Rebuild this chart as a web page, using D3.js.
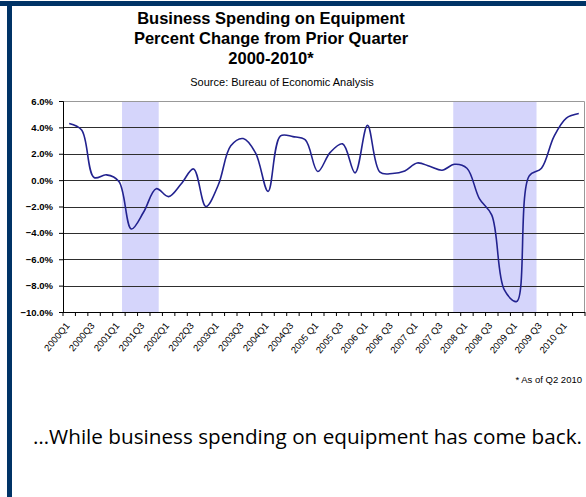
<!DOCTYPE html>
<html>
<head>
<meta charset="utf-8">
<script src="https://d3js.org/d3.v7.min.js"></script>
<style>
  body { margin: 0; background: #fff; }
  svg { display: block; }
  .tick-y { font-family: "Liberation Sans", Arial, sans-serif; font-size: 9.5px; font-weight: bold; }
  .tick-x { font-family: "Liberation Sans", Arial, sans-serif; font-size: 9.5px; }
</style>
</head>
<body>
<div id="chart"></div>
<script>
// Data

var quarters = [
  "2000Q1", "2000Q2", "2000Q3", "2000Q4",
  "2001Q1", "2001Q2", "2001Q3", "2001Q4",
  "2002Q1", "2002Q2", "2002Q3", "2002Q4",
  "2003Q1", "2003Q2", "2003Q3", "2003Q4",
  "2004Q1", "2004Q2", "2004Q3", "2004Q4",
  "2005 Q1", "2005 Q2", "2005 Q3", "2005 Q4",
  "2006 Q1", "2006 Q2", "2006 Q3", "2006 Q4",
  "2007 Q1", "2007 Q2", "2007 Q3", "2007 Q4",
  "2008 Q1", "2008 Q2", "2008 Q3", "2008 Q4",
  "2009 Q1", "2009 Q2", "2009 Q3", "2009 Q4",
  "2010 Q1", "2010 Q2"
];

// percent change from prior quarter
var spending = [
  4.3, 3.8, 0.2, 0.4,
  -0.1, -3.7, -2.4, -0.65,
  -1.25, -0.3, 0.85, -2.0,
  -0.35, 2.6, 3.15, 2.05,
  -0.85, 3.35, 3.3, 3.05,
  0.65, 2.1, 2.75, 0.55,
  4.15, 0.6, 0.5, 0.7,
  1.3, 1.05, 0.75, 1.2,
  0.9, -1.4, -2.65, -8.3,
  -9.2, 0.3, 0.9, 3.3,
  4.7, 5.05
];

// recession shading, in quarter units from 2000Q1
var recessions = [[4.75, 7.7], [31.4, 38.1]];

var yTicks = [6, 4, 2, 0, -2, -4, -6, -8, -10];

var titleLines = [
  "Business Spending on Equipment",
  "Percent Change from Prior Quarter",
  "2000-2010*"
];

// Initialize SVG
var svgWidth = 586;
var svgHeight = 497;

var margin = { top: 101, right: 1, bottom: 185, left: 63 };
var width = svgWidth - margin.left - margin.right;
var height = svgHeight - margin.top - margin.bottom;

var svg = d3.select("#chart")
  .append("svg")
  .attr("width", svgWidth)
  .attr("height", svgHeight);

// slide frame
svg.append("rect")
  .attr("x", 0).attr("y", 1)
  .attr("width", svgWidth).attr("height", 5)
  .attr("fill", "#003366");

svg.append("rect")
  .attr("x", 7).attr("y", 1)
  .attr("width", 5).attr("height", svgHeight)
  .attr("fill", "#003366");

// titles
svg.selectAll(".title")
  .data(titleLines)
  .enter()
  .append("text")
  .attr("class", "title")
  .attr("x", 271)
  .attr("y", (d, i) => 24 + i * 20)
  .attr("text-anchor", "middle")
  .style("font-family", "Liberation Sans, Arial, sans-serif")
  .style("font-weight", "bold")
  .style("font-size", "16.5px")
  .text(d => d);

svg.append("text")
  .attr("x", 282)
  .attr("y", 86)
  .attr("text-anchor", "middle")
  .style("font-family", "Liberation Sans, Arial, sans-serif")
  .style("font-size", "11px")
  .text("Source: Bureau of Economic Analysis");

var chartGroup = svg.append("g")
  .attr("transform", `translate(${margin.left}, ${margin.top})`);

// Create scale functions
var xBand = d3.scaleBand()
  .domain(quarters)
  .range([0, width]);

var xQuarter = d3.scaleLinear()
  .domain([0, quarters.length])
  .range([0, width]);

var yLinearScale = d3.scaleLinear()
  .domain([-10, 6])
  .range([height, 0]);

// recession bands
chartGroup.selectAll(".recession")
  .data(recessions)
  .enter()
  .append("rect")
  .attr("class", "recession")
  .attr("x", d => xQuarter(d[0]))
  .attr("width", d => xQuarter(d[1]) - xQuarter(d[0]))
  .attr("y", 0)
  .attr("height", height)
  .attr("fill", "#d5d5fb");

// gridlines
chartGroup.selectAll(".grid")
  .data(yTicks.filter(d => d !== 6 && d !== -10))
  .enter()
  .append("line")
  .attr("class", "grid")
  .attr("x1", 0)
  .attr("x2", width)
  .attr("y1", d => Math.round(yLinearScale(d)) + 0.5)
  .attr("y2", d => Math.round(yLinearScale(d)) + 0.5)
  .attr("stroke", "#2e2e2e")
  .attr("stroke-width", 1);

// plot border top / right
chartGroup.append("path")
  .attr("d", `M0,0.5H${width - 0.5}V${height}`)
  .attr("fill", "none")
  .attr("stroke", "#999")
  .attr("stroke-width", 1);

// y axis
var leftAxis = d3.axisLeft(yLinearScale)
  .tickValues(yTicks)
  .tickSize(4)
  .tickFormat(d => d3.format(".1f")(d) + "%");

var yAxisG = chartGroup.append("g")
  .attr("class", "tick-y")
  .call(leftAxis);
yAxisG.select(".domain").attr("stroke", "#000");
yAxisG.selectAll(".tick line").attr("stroke", "#000");
yAxisG.selectAll(".tick text")
  .attr("x", -10)
  .attr("fill", "#000");

// x axis with ticks between categories
var xAxisG = chartGroup.append("g")
  .attr("transform", `translate(0, ${height})`);

xAxisG.append("line")
  .attr("x1", 0).attr("x2", width)
  .attr("y1", 0.5).attr("y2", 0.5)
  .attr("stroke", "#000");

xAxisG.selectAll(".xtick")
  .data(d3.range(quarters.length + 1))
  .enter()
  .append("line")
  .attr("class", "xtick")
  .attr("x1", d => xQuarter(d))
  .attr("x2", d => xQuarter(d))
  .attr("y1", 0)
  .attr("y2", 4)
  .attr("stroke", "#000");

xAxisG.selectAll(".xlabel")
  .data(quarters.filter((d, i) => i % 2 === 0))
  .enter()
  .append("text")
  .attr("class", "tick-x")
  .attr("text-anchor", "end")
  .attr("transform", d => `translate(${xBand(d) + xBand.bandwidth() / 2 + 1}, 14) rotate(-50)`)
  .text(d => d);

// Create line
var line = d3.line()
  .x((d, i) => xBand(quarters[i]) + xBand.bandwidth() / 2)
  .y(d => yLinearScale(d))
  .curve(d3.curveCatmullRom.alpha(0.5));

chartGroup.append("path")
  .datum(spending)
  .attr("d", line)
  .attr("fill", "none")
  .attr("stroke", "#22228f")
  .attr("stroke-width", 1.6);

// footnote
svg.append("text")
  .attr("x", 582)
  .attr("y", 383)
  .attr("text-anchor", "end")
  .style("font-family", "Liberation Sans, Arial, sans-serif")
  .style("font-size", "9.5px")
  .text("* As of Q2 2010");

// slide caption
svg.append("text")
  .attr("x", 33)
  .attr("y", 444)
  .style("font-family", "Open Sans, Noto Sans, sans-serif")
  .style("font-size", "20.7px")
  .text("\u2026While business spending on equipment has come back.");
</script>
</body>
</html>
